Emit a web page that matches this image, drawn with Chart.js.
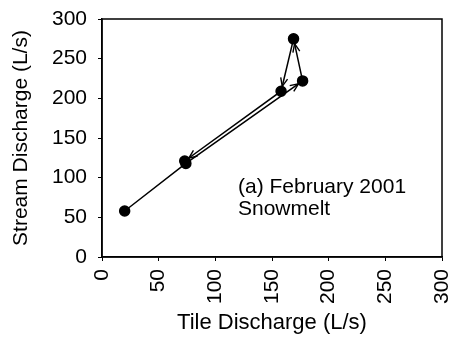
<!DOCTYPE html>
<html>
<head>
<meta charset="utf-8">
<script src="https://cdn.jsdelivr.net/npm/chart.js@4"></script>
<style>
  html, body { margin: 0; padding: 0; background: #fff; }
  #wrap { width: 453px; height: 341px; }
</style>
</head>
<body>
<div id="wrap"><canvas id="hysteresis_chart"></canvas></div>
<script>
// tile vs stream discharge, in the order they were measured
var tileDischarge = [20, 74, 177, 169, 158, 73];
var streamDischarge = [58, 118, 222, 275, 209, 121];
// segments (index of the end point) that carry an arrow head
var arrowSegments = [2, 3, 4, 5];
var xTicks = [0, 50, 100, 150, 200, 250, 300];
var yTicks = [0, 50, 100, 150, 200, 250, 300];
var noteLines = ['(a) February 2001', 'Snowmelt'];

var points = tileDischarge.map(function (x, i) {
    return { x: x, y: streamDischarge[i] };
});

var fontFamily = '"Liberation Sans", Arial, sans-serif';

const arrowPlugin = {
    id: 'arrows',
    afterDatasetsDraw(chart) {
        var ctx = chart.ctx;
        var xs = chart.scales.x, ys = chart.scales.y;
        ctx.save();
        ctx.strokeStyle = '#000';
        ctx.lineWidth = 1.4;
        arrowSegments.forEach(function (i) {
            var x0 = xs.getPixelForValue(points[i - 1].x), y0 = ys.getPixelForValue(points[i - 1].y);
            var x1 = xs.getPixelForValue(points[i].x), y1 = ys.getPixelForValue(points[i].y);
            var ang = Math.atan2(y1 - y0, x1 - x0);
            var tx = x1 - Math.cos(ang) * 5, ty = y1 - Math.sin(ang) * 5;
            var len = 9, spread = 0.4;
            ctx.beginPath();
            ctx.moveTo(tx - Math.cos(ang - spread) * len, ty - Math.sin(ang - spread) * len);
            ctx.lineTo(tx, ty);
            ctx.lineTo(tx - Math.cos(ang + spread) * len, ty - Math.sin(ang + spread) * len);
            ctx.stroke();
        });
        ctx.restore();
    }
};

const framePlugin = {
    id: 'frame',
    afterDraw(chart) {
        var a = chart.chartArea, ctx = chart.ctx;
        ctx.save();
        ctx.strokeStyle = '#000';
        ctx.lineWidth = 1.5;
        ctx.strokeRect(a.left, a.top, a.right - a.left, a.bottom - a.top);
        // note inside the plot
        ctx.fillStyle = '#000';
        ctx.font = '21px ' + fontFamily;
        ctx.textBaseline = 'alphabetic';
        ctx.textAlign = 'left';
        var nx = chart.scales.x.getPixelForValue(120);
        var ny = chart.scales.y.getPixelForValue(81);
        ctx.fillText(noteLines[0], nx, ny);
        ctx.fillText(noteLines[1], nx, ny + 22);
        ctx.restore();
    }
};

var ctx = document.getElementById('hysteresis_chart');
let scatterChart = new Chart(ctx, {
    type: 'scatter',
    data: {
        datasets: [{
            data: points,
            showLine: true,
            borderColor: '#000',
            borderWidth: 1.5,
            backgroundColor: '#000',
            pointBackgroundColor: '#000',
            pointBorderColor: '#000',
            pointRadius: 5,
            pointHoverRadius: 5
        }]
    },
    options: {
        responsive: true,
        maintainAspectRatio: false,
        animation: false,
        events: [],
        layout: { padding: { top: 19, right: 11, left: 0, bottom: 0 } },
        plugins: {
            legend: { display: false },
            tooltip: { enabled: false }
        },
        scales: {
            x: {
                type: 'linear',
                min: 0,
                max: 300,
                afterBuildTicks: function (axis) {
                    axis.ticks = xTicks.map(function (v) { return { value: v }; });
                },
                afterFit: function (axis) {
                    axis.height = 84;
                    axis.paddingLeft = 0;
                    axis.paddingRight = 0;
                },
                grid: { display: true, drawOnChartArea: false, tickLength: 4, color: '#000' },
                border: { display: true, color: '#000', width: 1.5 },
                ticks: {
                    color: '#000',
                    font: { family: fontFamily, size: 21 },
                    minRotation: 90,
                    maxRotation: 90,
                    padding: 8
                },
                title: {
                    display: true,
                    text: 'Tile Discharge (L/s)',
                    color: '#000',
                    font: { family: fontFamily, size: 22 },
                    padding: { top: 0, bottom: 5 }
                }
            },
            y: {
                type: 'linear',
                min: 0,
                max: 300,
                afterBuildTicks: function (axis) {
                    axis.ticks = yTicks.map(function (v) { return { value: v }; });
                },
                afterFit: function (axis) {
                    axis.width = 102;
                    axis.paddingTop = 0;
                    axis.paddingBottom = 0;
                },
                grid: { display: true, drawOnChartArea: false, tickLength: 4, color: '#000' },
                border: { display: true, color: '#000', width: 1.5 },
                ticks: {
                    color: '#000',
                    font: { family: fontFamily, size: 21 },
                    padding: 11
                },
                title: {
                    display: true,
                    text: 'Stream Discharge (L/s)',
                    color: '#000',
                    font: { family: fontFamily, size: 21 },
                    padding: { top: 9, bottom: 0 }
                }
            }
        }
    },
    plugins: [arrowPlugin, framePlugin]
});
window.myChart = scatterChart;
</script>
</body>
</html>
